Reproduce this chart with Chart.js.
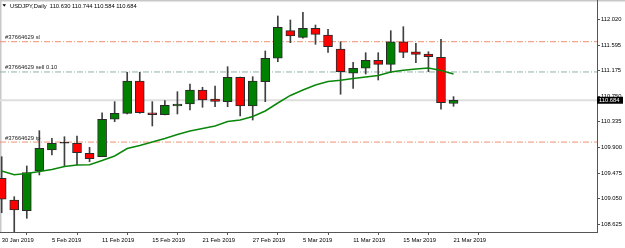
<!DOCTYPE html>
<html>
<head>
<meta charset="utf-8">
<script src="https://cdn.jsdelivr.net/npm/chart.js@4.4.0/dist/chart.umd.min.js"></script>
<style>
html,body{margin:0;padding:0;background:#fff}
#wrap{width:625px;height:248px}
</style>
</head>
<body>
<div id="wrap"><canvas id="chart" width="625" height="248"></canvas></div>
<script>
// USDJPY daily candles
const dates = ['30 Jan 2019','31 Jan 2019','1 Feb 2019','4 Feb 2019','5 Feb 2019','6 Feb 2019','7 Feb 2019','8 Feb 2019',
  '11 Feb 2019','12 Feb 2019','13 Feb 2019','14 Feb 2019','15 Feb 2019','18 Feb 2019','19 Feb 2019','20 Feb 2019',
  '21 Feb 2019','22 Feb 2019','25 Feb 2019','26 Feb 2019','27 Feb 2019','28 Feb 2019','1 Mar 2019','4 Mar 2019',
  '5 Mar 2019','6 Mar 2019','7 Mar 2019','8 Mar 2019','11 Mar 2019','12 Mar 2019','13 Mar 2019','14 Mar 2019',
  '15 Mar 2019','18 Mar 2019','19 Mar 2019','20 Mar 2019','21 Mar 2019'];
const open  = [109.389,109.029,108.852,109.515,109.858,109.970,109.970,109.804,109.747,110.368,110.467,111.003,110.477,110.444,110.588,110.622,110.854,110.705,110.660,111.065,110.588,110.992,111.380,111.838,111.728,111.878,111.766,111.534,111.131,111.214,111.347,111.280,111.655,111.489,111.451,111.396,110.630];
const high  = [109.747,109.084,109.593,110.179,110.053,110.079,110.091,109.903,110.477,110.660,111.148,111.148,110.660,110.680,110.826,110.953,110.899,110.920,111.240,111.070,111.075,111.501,112.082,112.015,112.143,111.932,111.861,111.655,111.313,111.473,111.473,111.838,111.904,111.629,111.489,111.695,110.744];
const low   = [108.818,108.503,108.725,109.444,109.776,109.581,109.610,109.664,109.747,110.328,110.456,110.467,110.257,110.439,110.456,110.522,110.567,110.577,110.577,110.423,110.356,110.660,111.323,111.639,111.712,111.612,111.479,110.783,110.882,111.119,111.020,111.141,111.390,111.307,111.157,110.534,110.584];
const close = [109.041,108.863,109.482,109.887,109.970,109.970,109.814,109.714,110.368,110.467,111.003,110.477,110.444,110.600,110.622,110.854,110.688,110.666,111.065,110.588,111.003,111.380,111.894,111.750,111.878,111.778,111.572,111.157,111.214,111.347,111.280,111.655,111.479,111.446,111.406,110.643,110.684];
const ma    = [109.510,109.449,109.469,109.502,109.535,109.585,109.610,109.615,109.684,109.759,109.883,109.933,109.991,110.049,110.116,110.174,110.215,110.257,110.331,110.356,110.414,110.506,110.638,110.763,110.854,110.937,110.995,111.016,111.045,111.070,111.094,111.153,111.181,111.202,111.219,111.177,111.119];

const orderNames  = ['#37664629 sl','#37664629 sell 0.10','#37664629 tp'];
const orderLevels = [111.655, 111.153, 109.990];
const bid = 110.684;
const yTicks = [112.020,111.595,111.175,110.750,110.335,109.900,109.475,109.050,108.625];
const xTickIdx = [0,4,8,12,16,20,24,28,32,36];
const title = 'USDJPY,Daily  110.630 110.744 110.584 110.684';

const X_MIN = -0.135, X_MAX = 47.43;
const FONT = "'Liberation Sans', Arial, sans-serif";
const orderColors = ['#f29070','#8fb0a5','#f29070'];

const candleColor = i => close[i] > open[i] ? '#008000' : (close[i] < open[i] ? '#ff0000' : '#000');
const flat = v => [{x:X_MIN,y:v},{x:X_MAX,y:v}];

const datasets = [
  { type:'line', data: ma.map((v,i)=>({x:i,y:v})), borderColor:'#0a870a', borderWidth:1.5,
    pointRadius:0, tension:0, order:-1 },
  { type:'bar', data: dates.map((d,i)=>({x:i,y:[open[i],close[i]]})), grouped:false,
    backgroundColor: dates.map((d,i)=>candleColor(i)), borderColor:'#2a2a2a', borderWidth:1,
    borderSkipped:false, barThickness:9, minBarLength:1, order:0 },
  { type:'bar', data: dates.map((d,i)=>({x:i,y:[low[i],high[i]]})), grouped:false,
    backgroundColor:'#404040', barThickness:1, order:1 },
  { type:'line', data: flat(bid), borderColor:'#dedede', borderWidth:2, pointRadius:0, order:5 }
];
orderLevels.forEach((v,k)=>{
  datasets.push({ type:'line', data: flat(v), borderColor: orderColors[k], borderWidth:1,
    borderDash:[6,2,1,2], pointRadius:0, order:4 });
});

const noPad = s => { s.paddingTop = 0; s.paddingBottom = 0; s.paddingLeft = 0; s.paddingRight = 0; };

const decor = {
  id:'decor',
  beforeDraw(chart){
    const c = chart.ctx;
    c.save();
    c.fillStyle = '#fff';
    c.fillRect(0,0,chart.width,chart.height);
    c.fillStyle = '#c8c8c8';
    c.fillRect(0,0,chart.width,1.5);
    c.fillRect(0,0,1.5,chart.chartArea.bottom);
    c.restore();
  },
  afterDraw(chart){
    const c = chart.ctx, y = chart.scales.y, a = chart.chartArea;
    c.save();
    c.font = '5.8px ' + FONT;
    c.fillStyle = '#222';
    c.textBaseline = 'alphabetic';
    orderLevels.forEach((v,k)=>{
      c.fillText(orderNames[k], 5, y.getPixelForValue(v) - 2.5);
    });
    // title
    c.fillStyle = '#000';
    c.beginPath();
    c.moveTo(2.5,4.3); c.lineTo(6,4.3); c.lineTo(4.25,6.8); c.closePath(); c.fill();
    c.fillText(title, 10, 8.3);
    // current price box
    const py = y.getPixelForValue(bid);
    c.fillRect(a.right, py-3.5, 26, 7);
    c.fillStyle = '#fff';
    c.textBaseline = 'middle';
    c.fillText(bid.toFixed(3), a.right+2, py+0.3);
    c.restore();
  }
};

new Chart(document.getElementById('chart'), {
  type:'bar',
  data:{ datasets },
  options:{
    responsive:false,
    devicePixelRatio:1,
    animation:false,
    layout:{ padding:0 },
    plugins:{ legend:{display:false}, tooltip:{enabled:false} },
    scales:{
      x:{
        type:'linear', position:'bottom', min:X_MIN, max:X_MAX, offset:false,
        grid:{ drawOnChartArea:false, tickLength:3, tickColor:'#555' },
        border:{ color:'#555' },
        ticks:{ font:{size:5.8, family:FONT}, color:'#000', align:'start', padding:2,
          maxRotation:0, autoSkip:false, callback: v => dates[v] || '' },
        afterBuildTicks: s => { s.ticks = xTickIdx.map(v=>({value:v})); },
        afterFit: s => { s.height = 16; noPad(s); }
      },
      y:{
        position:'right', min:108.498, max:112.347,
        grid:{ drawOnChartArea:false, tickLength:3, tickColor:'#555' },
        border:{ color:'#555' },
        ticks:{ font:{size:5.8, family:FONT}, color:'#000', padding:1,
          callback: v => Number(v).toFixed(3) },
        afterBuildTicks: s => { s.ticks = yTicks.map(v=>({value:v})); },
        afterFit: s => { s.width = 28; noPad(s); }
      }
    }
  },
  plugins:[decor]
});
</script>
</body>
</html>
